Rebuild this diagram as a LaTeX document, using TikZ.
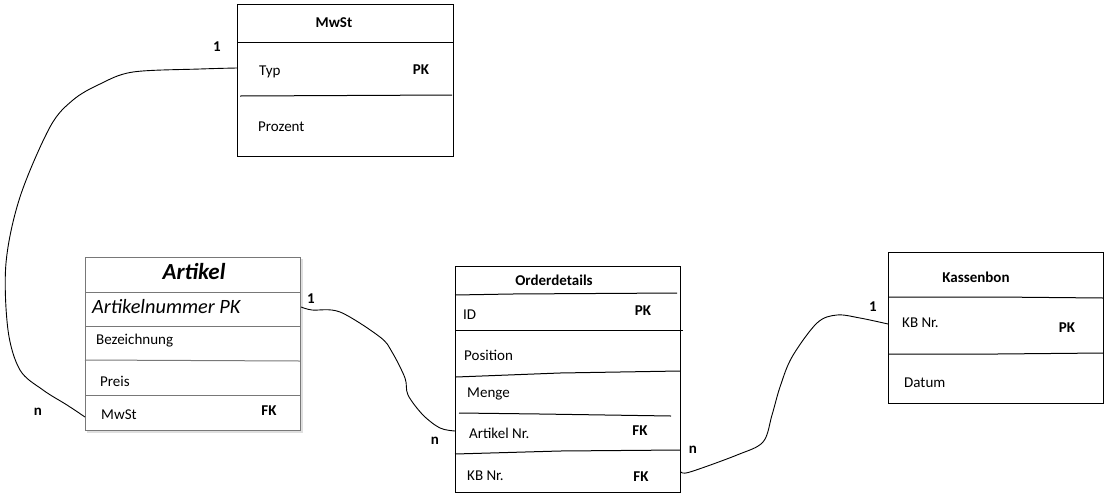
\documentclass[tikz,border=0pt]{standalone}
\usepackage{fontspec}
\setmainfont{Carlito}
\begin{document}
\begin{tikzpicture}[x=1pt,y=-1pt,
  every node/.style={font=\fontsize{15}{18}\selectfont, inner sep=0pt},
  box/.style={draw=black, line width=1, anchor=north west, inner sep=0pt},
  gbox/.style={draw={rgb,255:red,120;green,120;blue,120}, line width=1.2, anchor=north west, inner sep=0pt},
  div/.style={line width=1, black},
  gdiv/.style={line width=1, draw={rgb,255:red,120;green,120;blue,120}},
  title/.style={font=\fontsize{15}{18}\selectfont\bfseries},
  attr/.style={anchor=west},
  key/.style={font=\fontsize{15}{18}\selectfont\bfseries},
  card/.style={font=\fontsize{15}{18}\selectfont\bfseries},
  conn/.style={line width=0.9, black}
]
\useasboundingbox (0,0) rectangle (1109,499);

% ---------------- MwSt
\node[box, minimum width=216, minimum height=152] (mwst) at (237,4) {};
\draw[div] (237,42) -- (453,42);
\draw[div] (240,96) -- (452,95);
\node[title] (mwst-t) at (334,23) {MwSt};
\node[attr] (mwst-typ) at (259,72) {Typ};
\node[key] (mwst-pk) at (421,70) {PK};
\node[attr] (mwst-proz) at (258,127) {Prozent};

% ---------------- Artikel
\fill[gray!25] (301,259) rectangle (303,432);
\fill[gray!25] (87,431) rectangle (303,433);
\node[gbox, minimum width=215, minimum height=173] (art) at (85,257) {};
\draw[gdiv] (85,292) -- (300,292);
\draw[gdiv] (85,326) -- (300,326);
\draw[gdiv] (85,360) -- (300,361);
\draw[gdiv] (85,395) -- (300,395);
\node[font=\fontsize{23}{26}\selectfont\bfseries\itshape] (art-t) at (194,272) {Artikel};
\node[attr, font=\fontsize{20.3}{24}\selectfont\itshape] (art-nr) at (92,307) {Artikelnummer PK};
\node[attr] (art-bez) at (96,341) {Bezeichnung};
\node[attr] (art-preis) at (100,381) {Preis};
\node[attr] (art-mwst) at (101,415) {MwSt};
\node[key] (art-fk) at (269,411) {FK};

% ---------------- Orderdetails
\node[box, minimum width=225, minimum height=226] (od) at (455,266) {};
\draw[div] (455,295) -- (512,294) -- (677,293);
\draw[div] (455,330) -- (683,330);
\draw[div] (456,377) -- (560,373) -- (680,371);
\draw[div] (459,413) -- (540,414) -- (671,416);
\draw[div] (455,454) -- (560,451) -- (680,450);
\node[title] (od-t) at (554,280) {Orderdetails};
\node[attr] (od-id) at (463,315) {ID};
\node[key] (od-pk) at (643,311) {PK};
\node[attr] (od-pos) at (464,355) {Position};
\node[attr] (od-menge) at (467,394) {Menge};
\node[attr] (od-art) at (469,433) {Artikel Nr.};
\node[key] (od-fk1) at (640,431) {FK};
\node[attr] (od-kb) at (467,476) {KB Nr.};
\node[key] (od-fk2) at (641,477) {FK};

% ---------------- Kassenbon
\node[box, minimum width=215, minimum height=151] (kb) at (888,252) {};
\draw[div] (888,297) -- (996,297) -- (1103,298);
\draw[div] (888,354) -- (997,354) -- (1103,353);
\node[title] (kb-t) at (976,277) {Kassenbon};
\node[attr] (kb-nr) at (902,323) {KB Nr.};
\node[key] (kb-pk) at (1067,328) {PK};
\node[attr] (kb-dat) at (904,383) {Datum};

% ---------------- connector end points
\coordinate (e-mw) at (mwst.west |- 0,68);
\coordinate (e-artmw) at (art.west |- 0,417);
\coordinate (e-artnr) at (art.east |- 0,307);
\coordinate (e-odart) at (od.west |- 0,431);
\coordinate (e-odkb) at (od.east |- 0,472);
\coordinate (e-kbnr) at (kb.west |- 0,324);

% ---------------- connectors
\draw[conn] plot[smooth, tension=0.55] coordinates {(e-mw) (200,69) (133,72) (100,84) (73,100) (50,127) (20,197) (6,263) (8,330) (20,370) (43,390) (67,405) (e-artmw)};
\draw[conn] plot[smooth, tension=0.55] coordinates {(e-artnr) (312,310) (340,312) (380,337) (392,352) (405,378) (408,395) (423,415) (440,428) (e-odart)};
\draw[conn] plot[smooth, tension=0.55] coordinates {(e-odkb) (690,472) (737,455) (763,442) (772,415) (780,387) (792,357) (817,323) (837,315) (860,318) (e-kbnr)};

% ---------------- cardinalities
\node[card] (c1) at (217,47) {1};
\node[card] (c2) at (38,412) {n};
\node[card] (c3) at (311,299) {1};
\node[card] (c4) at (435,441) {n};
\node[card] (c5) at (693,450) {n};
\node[card] (c6) at (873,307) {1};
\end{tikzpicture}
\end{document}
